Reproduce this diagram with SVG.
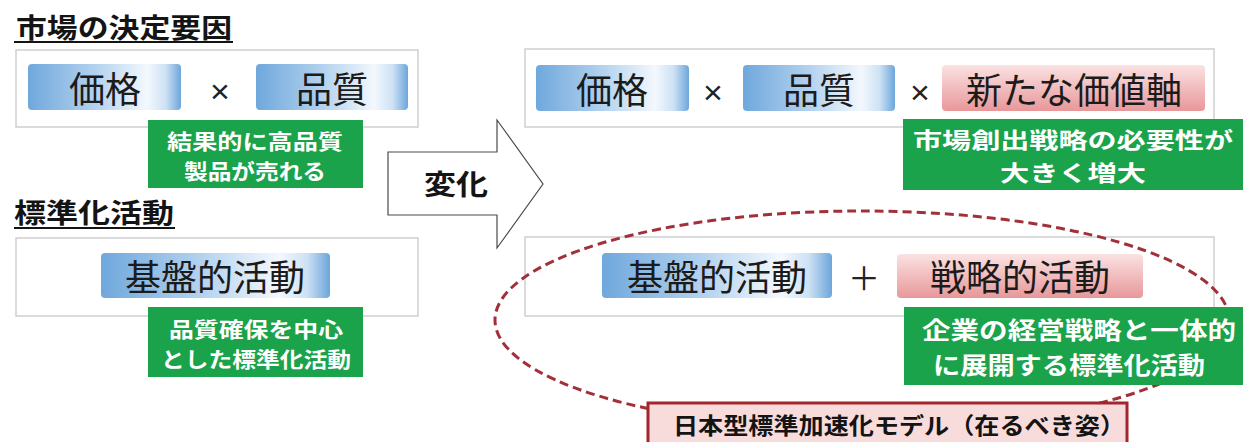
<svg xmlns="http://www.w3.org/2000/svg" width="1250" height="442" viewBox="0 0 1250 442">
<defs>
<linearGradient id="gBlue" x1="0" y1="0" x2="1" y2="0">
<stop offset="0" stop-color="#6fa8dc"/>
<stop offset="0.45" stop-color="#b5d3ef"/>
<stop offset="0.78" stop-color="#f3f8fd"/>
<stop offset="0.9" stop-color="#cde1f4"/>
<stop offset="1" stop-color="#6ca6db"/>
</linearGradient>
<linearGradient id="gRed" x1="0" y1="0" x2="0" y2="1">
<stop offset="0" stop-color="#fbe2e2"/>
<stop offset="1" stop-color="#e8979a"/>
</linearGradient>
</defs>
<style>
.jp{font-family:'Noto Sans CJK JP','Noto Sans CJK SC',sans-serif}
.title{font-size:27px;font-weight:bold;fill:#141414}
.uline{stroke:#141414;stroke-width:2}
.frame{fill:#ffffff;stroke:#cfcfcf;stroke-width:1.5}
.chipText{font-size:36px;fill:#1b1b1b;text-anchor:middle;dominant-baseline:central}
.green{fill:#1ba34b}
.gText{font-weight:bold;fill:#ffffff;text-anchor:middle;dominant-baseline:central}
.op{font-family:'Liberation Sans',sans-serif;font-size:34px;fill:#222222;text-anchor:middle;dominant-baseline:central}
.plus{font-size:32px;fill:#222222;text-anchor:middle;dominant-baseline:central}
</style>
<rect x="0" y="0" width="1250" height="442" fill="#ffffff"/>

<g id="title-market">
<text class="jp title" x="16" y="38" textLength="216" lengthAdjust="spacingAndGlyphs">市場の決定要因</text>
<line class="uline" x1="14" y1="42" x2="233" y2="42"/>
</g>

<g id="box-market-before">
<rect class="frame" x="16" y="50" width="402" height="77"/>
<rect x="28" y="64" width="153" height="46" rx="4" fill="url(#gBlue)"/>
<text class="jp chipText" x="105" y="87">価格</text>
<text class="op" x="220" y="91">×</text>
<rect x="256" y="64" width="152" height="46" rx="4" fill="url(#gBlue)"/>
<text class="jp chipText" x="332" y="87">品質</text>
</g>

<g id="note-market-before">
<rect class="green" x="148" y="120" width="215" height="68"/>
<text class="jp gText" x="255" y="140" font-size="21" textLength="176" lengthAdjust="spacingAndGlyphs">結果的に高品質</text>
<text class="jp gText" x="255" y="170" font-size="21" textLength="142" lengthAdjust="spacingAndGlyphs">製品が売れる</text>
</g>

<g id="title-standard">
<text class="jp title" x="14" y="223" textLength="160" lengthAdjust="spacingAndGlyphs">標準化活動</text>
<line class="uline" x1="14" y1="228" x2="175" y2="228"/>
</g>

<g id="box-standard-before">
<rect class="frame" x="16" y="238" width="402" height="78"/>
<rect x="101" y="253" width="229" height="45" rx="4" fill="url(#gBlue)"/>
<text class="jp chipText" x="215" y="275">基盤的活動</text>
</g>

<g id="note-standard-before">
<rect class="green" x="148" y="307" width="215" height="70"/>
<text class="jp gText" x="256" y="328" font-size="21" textLength="174" lengthAdjust="spacingAndGlyphs">品質確保を中心</text>
<text class="jp gText" x="256" y="358" font-size="21" textLength="190" lengthAdjust="spacingAndGlyphs">とした標準化活動</text>
</g>

<g id="box-market-after">
<rect class="frame" x="525" y="49" width="689" height="78"/>
<rect x="536" y="65" width="153" height="46" rx="4" fill="url(#gBlue)"/>
<text class="jp chipText" x="612" y="88">価格</text>
<text class="op" x="713" y="92">×</text>
<rect x="743" y="65" width="152" height="46" rx="4" fill="url(#gBlue)"/>
<text class="jp chipText" x="819" y="88">品質</text>
<text class="op" x="920" y="92">×</text>
<rect x="942" y="65" width="263" height="46" rx="4" fill="url(#gRed)"/>
<text class="jp chipText" x="1074" y="88">新たな価値軸</text>
</g>

<g id="note-market-after">
<rect class="green" x="903" y="119" width="340" height="71"/>
<text class="jp gText" x="1073" y="138" font-size="22" textLength="320" lengthAdjust="spacingAndGlyphs">市場創出戦略の必要性が</text>
<text class="jp gText" x="1073" y="171" font-size="22" textLength="146" lengthAdjust="spacingAndGlyphs">大きく増大</text>
</g>

<g id="connectors">
<polygon points="388,152 497,152 497,120 543,184 497,248 497,215 388,215" fill="#ffffff" stroke="#4a4a4a" stroke-width="1.2" stroke-linejoin="miter"/>
<text class="jp" x="456" y="183" font-size="28" font-weight="bold" fill="#141414" text-anchor="middle" dominant-baseline="central" textLength="64" lengthAdjust="spacingAndGlyphs">変化</text>
</g>

<g id="box-standard-after">
<rect class="frame" x="525" y="237" width="689" height="79"/>
<rect x="602" y="253" width="230" height="45" rx="4" fill="url(#gBlue)"/>
<text class="jp chipText" x="717" y="275">基盤的活動</text>
<text class="jp plus" x="864" y="276">＋</text>
<rect x="897" y="254" width="246" height="44" rx="4" fill="url(#gRed)"/>
<text class="jp chipText" x="1020" y="275">戦略的活動</text>
</g>

<g id="highlight-ideal">
<ellipse cx="862" cy="320" rx="367" ry="109" fill="none" stroke="#a2303a" stroke-width="3" stroke-dasharray="9 5"/>
</g>

<g id="note-standard-after">
<rect class="green" x="904" y="307" width="339" height="78"/>
<text class="jp gText" x="1079" y="328" font-size="24" textLength="314" lengthAdjust="spacingAndGlyphs">企業の経営戦略と一体的</text>
<text class="jp gText" x="1069" y="363" font-size="24" textLength="272" lengthAdjust="spacingAndGlyphs">に展開する標準化活動</text>
</g>

<g id="label-ideal">
<rect x="648" y="403" width="479" height="45" fill="#f8dcdc" stroke="#a3262c" stroke-width="3"/>
<text class="jp" x="673" y="424" font-size="23" font-weight="bold" fill="#141414" dominant-baseline="central" textLength="452" lengthAdjust="spacingAndGlyphs">日本型標準加速化モデル（在るべき姿）</text>
</g>
</svg>
